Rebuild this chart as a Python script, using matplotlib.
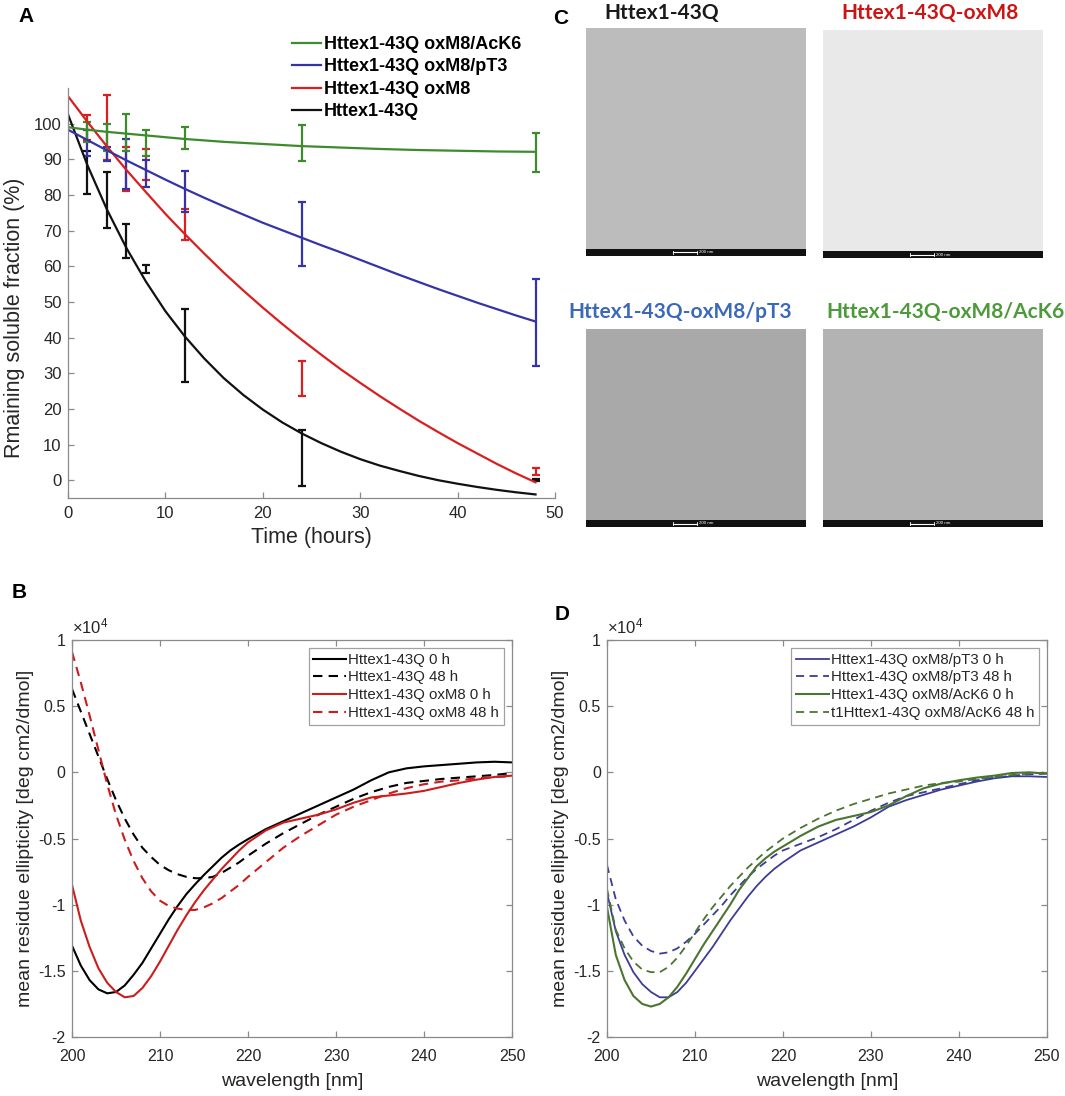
import matplotlib.pyplot as plt
from matplotlib.patches import Rectangle

plt.rcParams['font.family'] = ['Liberation Sans', 'DejaVu Sans']
plt.rcParams['axes.unicode_minus'] = False
plt.rcParams['mathtext.fontset'] = 'custom'
plt.rcParams['mathtext.rm'] = 'Liberation Sans'
plt.rcParams['mathtext.it'] = 'Liberation Sans:italic'

# ---------------- panel A data (remaining soluble fraction, %)
t_fit = [0, 2, 4, 6, 8, 10, 12, 14, 16, 18, 20, 22, 24, 26, 28, 30, 32, 34, 36, 38, 40, 42, 44, 46, 48]
fit_43q = [102.6, 88.3, 75.9, 65.1, 55.7, 47.4, 40.3, 34.1, 28.6, 23.9, 19.8, 16.2, 13.1, 10.4, 8.0,
           5.9, 4.1, 2.6, 1.2, 0.0, -1.0, -1.9, -2.7, -3.4, -4.0]
fit_oxm8 = [107.7, 100.5, 93.6, 87.0, 80.8, 74.7, 69.0, 63.5, 58.2, 53.2, 48.4, 43.8, 39.4, 35.2, 31.1,
            27.3, 23.6, 20.1, 16.7, 13.5, 10.4, 7.5, 4.6, 1.9, -0.6]
fit_pt3 = [98.3, 95.4, 92.5, 89.7, 87.0, 84.3, 81.7, 79.2, 76.8, 74.5, 72.2, 70.1, 68.0, 65.9, 63.9,
           61.8, 59.7, 57.6, 55.6, 53.6, 51.7, 49.8, 48.0, 46.2, 44.5]
fit_ack6 = [99.0, 98.3, 97.7, 97.2, 96.7, 96.2, 95.7, 95.3, 94.9, 94.6, 94.3, 94.0, 93.7, 93.5, 93.3,
            93.1, 92.9, 92.75, 92.6, 92.5, 92.4, 92.3, 92.2, 92.15, 92.1]

t_meas = [2, 4, 6, 8, 12, 24, 48]
mean_43q = [86.3, 78.5, 67.1, 59.3, 37.8, 6.3, 0.0]
err_43q = [6.1, 7.8, 4.8, 1.1, 10.2, 7.8, 0.3]
mean_oxm8 = [99.0, 98.8, 87.3, 88.5, 71.7, 28.5, 2.5]
err_oxm8 = [3.5, 9.1, 6.2, 4.3, 4.3, 5.0, 1.0]
mean_pt3 = [94.6, 91.5, 88.7, 85.9, 81.0, 69.0, 44.3]
err_pt3 = [3.7, 2.0, 7.1, 3.8, 5.8, 9.0, 12.2]
mean_ack6 = [97.7, 96.1, 97.6, 94.5, 96.1, 94.5, 91.8]
err_ack6 = [2.8, 3.7, 5.2, 3.6, 3.1, 5.0, 5.5]

names_a = ['Httex1-43Q oxM8/AcK6', 'Httex1-43Q oxM8/pT3', 'Httex1-43Q oxM8', 'Httex1-43Q']

# ---------------- panels B / D data (CD, x10^4 deg cm2/dmol)
wl = [200, 201, 202, 203, 204, 205, 206, 207, 208, 209, 210, 211, 212, 213, 214, 215, 216, 217, 218, 219,
      220, 222, 224, 226, 228, 230, 232, 234, 236, 238, 240, 242, 244, 246, 248, 250]
cd_43q_0h = [-1.31, -1.46, -1.57, -1.64, -1.67, -1.66, -1.61, -1.53, -1.44, -1.33, -1.22, -1.11, -1.01, -0.92,
             -0.845, -0.775, -0.71, -0.645, -0.59, -0.545, -0.505, -0.43, -0.37, -0.31, -0.25, -0.19, -0.13,
             -0.06, 0.0, 0.03, 0.045, 0.055, 0.065, 0.075, 0.08, 0.075]
cd_43q_48h = [0.63, 0.46, 0.29, 0.12, -0.05, -0.21, -0.35, -0.47, -0.57, -0.64, -0.70, -0.74, -0.77, -0.79,
              -0.80, -0.80, -0.79, -0.76, -0.72, -0.68, -0.63, -0.54, -0.46, -0.39, -0.32, -0.26, -0.20, -0.15,
              -0.11, -0.08, -0.065, -0.05, -0.04, -0.03, -0.02, -0.005]
cd_oxm8_0h = [-0.85, -1.12, -1.32, -1.48, -1.59, -1.66, -1.70, -1.69, -1.63, -1.54, -1.43, -1.31, -1.19, -1.08,
              -0.98, -0.89, -0.81, -0.73, -0.66, -0.59, -0.53, -0.44, -0.38, -0.35, -0.32, -0.28, -0.23, -0.19,
              -0.175, -0.16, -0.14, -0.11, -0.08, -0.055, -0.035, -0.025]
cd_oxm8_48h = [0.91, 0.68, 0.43, 0.17, -0.09, -0.32, -0.51, -0.67, -0.80, -0.90, -0.97, -1.01, -1.03, -1.04,
               -1.04, -1.02, -0.99, -0.95, -0.90, -0.85, -0.79, -0.68, -0.57, -0.48, -0.40, -0.32, -0.26, -0.21,
               -0.16, -0.12, -0.09, -0.07, -0.06, -0.045, -0.035, -0.03]
cd_pt3_0h = [-0.91, -1.20, -1.38, -1.51, -1.60, -1.66, -1.70, -1.70, -1.66, -1.59, -1.50, -1.41, -1.32, -1.22,
             -1.12, -1.03, -0.94, -0.86, -0.79, -0.73, -0.68, -0.59, -0.53, -0.47, -0.41, -0.34, -0.26, -0.21,
             -0.17, -0.13, -0.10, -0.07, -0.045, -0.03, -0.03, -0.035]
cd_pt3_48h = [-0.70, -0.96, -1.12, -1.24, -1.31, -1.35, -1.37, -1.36, -1.33, -1.28, -1.22, -1.15, -1.08, -1.01,
              -0.93, -0.86, -0.79, -0.73, -0.68, -0.63, -0.59, -0.54, -0.49, -0.43, -0.36, -0.29, -0.23, -0.18,
              -0.15, -0.12, -0.09, -0.06, -0.04, -0.025, -0.015, -0.01]
cd_ack6_0h = [-1.02, -1.38, -1.57, -1.69, -1.75, -1.77, -1.75, -1.70, -1.62, -1.52, -1.41, -1.30, -1.20, -1.10,
              -1.00, -0.89, -0.80, -0.71, -0.65, -0.60, -0.56, -0.48, -0.41, -0.36, -0.33, -0.30, -0.25, -0.18,
              -0.12, -0.085, -0.06, -0.04, -0.025, -0.005, 0.0, -0.01]
cd_ack6_48h = [-0.88, -1.19, -1.33, -1.43, -1.49, -1.51, -1.51, -1.47, -1.40, -1.31, -1.21, -1.11, -1.02, -0.94,
               -0.86, -0.79, -0.72, -0.66, -0.60, -0.55, -0.50, -0.42, -0.35, -0.29, -0.24, -0.20, -0.16, -0.13,
               -0.10, -0.08, -0.07, -0.05, -0.035, -0.02, -0.01, 0.0]

names_b = ['Httex1-43Q 0 h', 'Httex1-43Q 48 h', 'Httex1-43Q oxM8 0 h', 'Httex1-43Q oxM8 48 h']
names_d = ['Httex1-43Q oxM8/pT3 0 h', 'Httex1-43Q oxM8/pT3 48 h',
           'Httex1-43Q oxM8/AcK6 0 h', 't1Httex1-43Q oxM8/AcK6 48 h']
cd_ticks = [-2, -1.5, -1, -0.5, 0, 0.5, 1]
cd_ticklabels = ['-2', '-1.5', '-1', '-0.5', '0', '0.5', '1']

# ---------------- panel C (EM images)
em_titles = ['Httex1-43Q', 'Httex1-43Q-oxM8', 'Httex1-43Q-oxM8/pT3', 'Httex1-43Q-oxM8/AcK6']

W, H = 1065, 1096
fig = plt.figure(figsize=(W / 100, H / 100), dpi=100)
AX_GRAY = '#8a8a8a'
TXT = '#262626'


def px_axes(l, t, r, b):
    return fig.add_axes([l / W, 1 - b / H, (r - l) / W, (b - t) / H])


def matlab_look(ax, box, size):
    for s in ax.spines.values():
        s.set_color(AX_GRAY)
        s.set_linewidth(0.9)
    if not box:
        ax.spines['top'].set_visible(False)
        ax.spines['right'].set_visible(False)
    ax.tick_params(direction='in', length=4, width=0.9, color=AX_GRAY, labelcolor=TXT,
                   labelsize=size, top=box, right=box)


# ===== A =====
axA = px_axes(68, 88, 555, 498)
c_green, c_blue, c_red, c_black = '#3d8b2d', '#3434a8', '#d91f1f', '#111111'
for col, mean, err in [(c_black, mean_43q, err_43q), (c_red, mean_oxm8, err_oxm8),
                       (c_blue, mean_pt3, err_pt3), (c_green, mean_ack6, err_ack6)]:
    axA.errorbar(t_meas, mean, yerr=err, fmt='none', ecolor=col, elinewidth=1.6,
                 capsize=3, capthick=1.6)
la_k, = axA.plot(t_fit, fit_43q, color=c_black, lw=1.6)
la_r, = axA.plot(t_fit, fit_oxm8, color=c_red, lw=1.6)
la_b, = axA.plot(t_fit, fit_pt3, color=c_blue, lw=1.6)
la_g, = axA.plot(t_fit, fit_ack6, color=c_green, lw=1.6)
axA.set_xlim(0, 50)
axA.set_ylim(-5, 110)
axA.set_xticks(range(0, 51, 10))
axA.set_yticks(range(0, 101, 10))
matlab_look(axA, False, 12)
axA.tick_params(axis='x', pad=5.5)
axA.tick_params(axis='y', pad=4.5)
axA.set_xlabel('Time (hours)', fontsize=15.5, color=TXT)
axA.xaxis.label.set_va('center')
axA.xaxis.set_label_coords(0.5, -(538 - 498) / 410)
axA.set_ylabel('Rmaining soluble fraction (%)', fontsize=15.5, color=TXT)
axA.yaxis.label.set_va('center')
axA.yaxis.set_label_coords((15 - 68) / 487, 0.44)
axA.legend([la_g, la_b, la_r, la_k], names_a, loc='upper left',
           bbox_to_anchor=(292 / W, 1 - 36 / H), bbox_transform=fig.transFigure,
           frameon=False, prop={'weight': 'bold', 'size': 13}, handlelength=1.6,
           handletextpad=0.17, labelspacing=0.3, borderpad=0, borderaxespad=0)


# ===== B and D =====
def cd_panel(l, r, series, names):
    ax = px_axes(l, 640, r, 1037)
    handles = []
    for y, col, ls, lw in series:
        if ls == 'dash':
            h, = ax.plot(wl, y, color=col, lw=lw, dashes=(4.5, 3))
        else:
            h, = ax.plot(wl, y, color=col, lw=lw)
        handles.append(h)
    ax.set_xlim(200, 250)
    ax.set_ylim(-2, 1)
    ax.set_xticks(range(200, 251, 10))
    ax.set_yticks(cd_ticks)
    ax.set_yticklabels(cd_ticklabels)
    matlab_look(ax, True, 11.5)
    ax.tick_params(axis='x', pad=8.5)
    ax.tick_params(axis='y', pad=4.5)
    ax.text(0.0, 1.008, r'$\times10^4$', transform=ax.transAxes, ha='left', va='bottom',
            fontsize=12, color=TXT)
    ax.set_xlabel('wavelength [nm]', fontsize=14, color=TXT)
    ax.xaxis.label.set_va('center')
    ax.xaxis.set_label_coords(0.5, -(1082 - 1037) / 397)
    ax.set_ylabel('mean residue ellipticity [deg cm2/dmol]', fontsize=14, color=TXT)
    ax.yaxis.label.set_va('center')
    ax.yaxis.set_label_coords(-0.105, 0.5)
    leg = ax.legend(handles, names, loc='upper right', fontsize=10.8, fancybox=False,
                    handlelength=2.2, handletextpad=0.15, labelspacing=0.25, borderpad=0.3,
                    borderaxespad=0.55)
    leg.get_frame().set_edgecolor(AX_GRAY)
    leg.get_frame().set_linewidth(0.9)
    for t in leg.get_texts():
        t.set_color(TXT)
    return ax


c_red_b = '#cc1c1c'
cd_panel(72, 512, [(cd_43q_0h, 'black', 'solid', 1.5), (cd_43q_48h, 'black', 'dash', 1.5),
                   (cd_oxm8_0h, c_red_b, 'solid', 1.5), (cd_oxm8_48h, c_red_b, 'dash', 1.5)], names_b)
c_blue_d, c_green_d = '#3c3c96', '#4a7530'
cd_panel(607, 1047, [(cd_pt3_0h, c_blue_d, 'solid', 1.3), (cd_pt3_48h, c_blue_d, 'dash', 1.3),
                     (cd_ack6_0h, c_green_d, 'solid', 1.5), (cd_ack6_48h, c_green_d, 'dash', 1.3)], names_d)

# ===== C : EM micrograph placeholders =====
em_boxes = [(586, 28, 806, 256), (823, 30, 1043, 258), (586, 329, 806, 527), (823, 329, 1043, 527)]
em_tones = ['#bcbcbc', '#e9e9e9', '#a9a9a9', '#b3b3b3']
em_colors = ['#1a1a1a', '#cc1414', '#3b68b8', '#4c9a3a']
em_title_xy = [(662, 13), (930, 13), (680, 312), (945, 312)]
for (l, t, r, b), tone, col, (tx, ty), title in zip(em_boxes, em_tones, em_colors, em_title_xy, em_titles):
    ax = px_axes(l, t, r, b)
    ax.set_facecolor(tone)
    ax.set_xticks([])
    ax.set_yticks([])
    for s in ax.spines.values():
        s.set_visible(False)
    strip = 7 / (b - t)
    ax.add_patch(Rectangle((0, 0), 1, strip, transform=ax.transAxes, color='#111111', lw=0))
    ax.plot([0.394, 0.505], [strip / 2, strip / 2], color='white', lw=0.8, transform=ax.transAxes)
    ax.plot([0.394, 0.394], [strip * 0.25, strip * 0.75], color='white', lw=0.6, transform=ax.transAxes)
    ax.plot([0.505, 0.505], [strip * 0.25, strip * 0.75], color='white', lw=0.6, transform=ax.transAxes)
    ax.text(0.515, strip / 2, '200 nm', color='white', fontsize=3.2, ha='left', va='center',
            transform=ax.transAxes)
    fig.text(tx / W, 1 - ty / H, title, color=col, fontsize=15, fontweight='bold',
             family=['Lato', 'DejaVu Sans'], ha='center', va='center')

# panel letters
for letter, x, y in [('A', 26, 16), ('B', 19, 593), ('C', 561, 19), ('D', 562, 615)]:
    fig.text(x / W, 1 - y / H, letter, fontsize=15, fontweight='bold', ha='center', va='center')

fig.savefig('out.png', dpi=100)
